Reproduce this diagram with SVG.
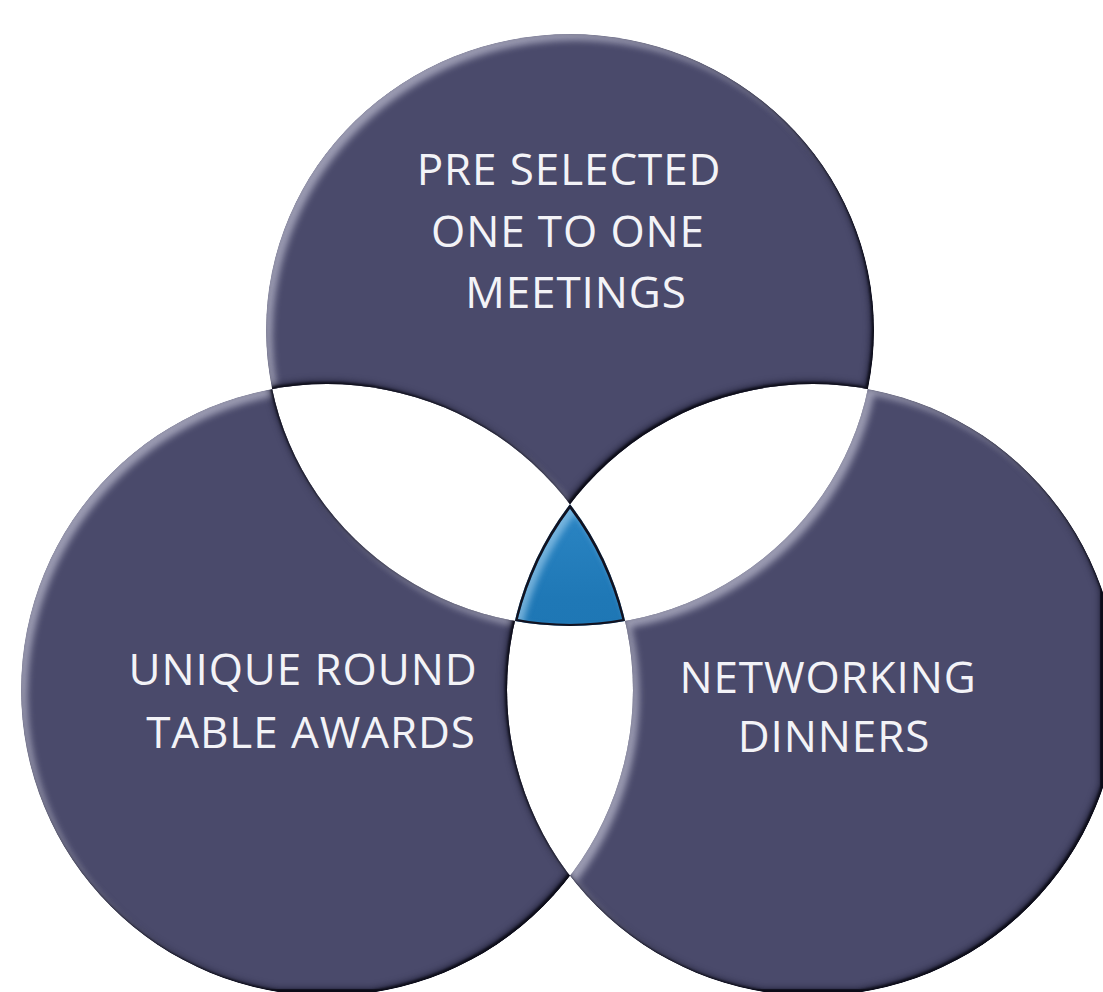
<svg xmlns="http://www.w3.org/2000/svg" xmlns:xlink="http://www.w3.org/1999/xlink" width="1103" height="992" viewBox="0 0 1103 992">
  <style>
    .dark { fill: #4a4a6b; }
    .lbl { font-family: "Open Sans", "Liberation Sans", sans-serif; font-size: 44px; fill: #f3f3f7; text-anchor: middle; letter-spacing: 0.9px; }
  </style>
  <defs>
    <ellipse id="cT" cx="570" cy="330" rx="304" ry="296"/>
    <circle id="cL" cx="327" cy="690" r="306"/>
    <circle id="cR" cx="813" cy="690" r="306"/>
    <clipPath id="clipT"><use href="#cT"/></clipPath>
    <clipPath id="clipL"><use href="#cL"/></clipPath>
    <mask id="mT" maskUnits="userSpaceOnUse" x="0" y="0" width="1103" height="992">
      <use href="#cT" fill="#fff"/><use href="#cL" fill="#000"/><use href="#cR" fill="#000"/>
    </mask>
    <mask id="mL" maskUnits="userSpaceOnUse" x="0" y="0" width="1103" height="992">
      <use href="#cL" fill="#fff"/><use href="#cT" fill="#000"/><use href="#cR" fill="#000"/>
    </mask>
    <mask id="mR" maskUnits="userSpaceOnUse" x="0" y="0" width="1103" height="992">
      <use href="#cR" fill="#fff"/><use href="#cT" fill="#000"/><use href="#cL" fill="#000"/>
    </mask>
    <linearGradient id="blueGrad" x1="0" y1="0" x2="0" y2="1">
      <stop offset="0" stop-color="#3c98d6"/>
      <stop offset="0.35" stop-color="#1f78b6"/>
      <stop offset="1" stop-color="#186aa6"/>
    </linearGradient>
    <filter id="bevel" filterUnits="userSpaceOnUse" x="0" y="0" width="1103" height="992" color-interpolation-filters="sRGB">
      <feGaussianBlur in="SourceAlpha" stdDeviation="3.5" result="blur"/>
      <feOffset in="blur" dx="6" dy="6" result="offDR"/>
      <feComposite in="SourceAlpha" in2="offDR" operator="out" result="hlMask"/>
      <feFlood flood-color="#c4c4d6" flood-opacity="0.7"/>
      <feComposite in2="hlMask" operator="in" result="hl"/>
      <feOffset in="blur" dx="-3" dy="-3" result="offUL"/>
      <feComposite in="SourceAlpha" in2="offUL" operator="out" result="shMask"/>
      <feFlood flood-color="#15152a" flood-opacity="0.8"/>
      <feComposite in2="shMask" operator="in" result="sh"/>
      <feGaussianBlur in="SourceAlpha" stdDeviation="0.8" result="blur2"/>
      <feOffset in="blur2" dx="-2.5" dy="-2.5" result="offUL2"/>
      <feComposite in="SourceAlpha" in2="offUL2" operator="out" result="shMask2"/>
      <feFlood flood-color="#0c0c16" flood-opacity="0.95"/>
      <feComposite in2="shMask2" operator="in" result="sh2"/>
      <feMerge><feMergeNode in="SourceGraphic"/><feMergeNode in="hl"/><feMergeNode in="sh"/><feMergeNode in="sh2"/></feMerge>
    </filter>
    <filter id="bevelBlue" filterUnits="userSpaceOnUse" x="0" y="0" width="1103" height="992" color-interpolation-filters="sRGB">
      <feMorphology in="SourceAlpha" operator="erode" radius="2" result="er"/>
      <feComposite in="SourceAlpha" in2="er" operator="out" result="edge"/>
      <feFlood flood-color="#121220"/>
      <feComposite in2="edge" operator="in" result="outline"/>
      <feGaussianBlur in="er" stdDeviation="3" result="blur"/>
      <feOffset in="blur" dx="5" dy="5" result="off"/>
      <feComposite in="er" in2="off" operator="out" result="hlMask"/>
      <feFlood flood-color="#a8d4f2" flood-opacity="0.6"/>
      <feComposite in2="hlMask" operator="in" result="hl"/>
      <feMerge><feMergeNode in="SourceGraphic"/><feMergeNode in="hl"/><feMergeNode in="outline"/></feMerge>
    </filter>
  </defs>

  <rect width="1103" height="992" fill="#ffffff"/>

  <g id="node-top">
    <g filter="url(#bevel)"><use href="#cT" class="dark" mask="url(#mT)"/></g>
    <text class="lbl" x="569" y="185">PRE SELECTED</text>
    <text class="lbl" x="568" y="247">ONE TO ONE</text>
    <text class="lbl" x="576" y="308">MEETINGS</text>
  </g>

  <g id="node-left">
    <g filter="url(#bevel)"><use href="#cL" class="dark" mask="url(#mL)"/></g>
    <text class="lbl" x="303" y="685">UNIQUE ROUND</text>
    <text class="lbl" x="311" y="748">TABLE AWARDS</text>
  </g>

  <g id="node-right">
    <g filter="url(#bevel)"><use href="#cR" class="dark" mask="url(#mR)"/></g>
    <text class="lbl" x="828" y="693">NETWORKING</text>
    <text class="lbl" x="834" y="752">DINNERS</text>
  </g>

  <g id="node-center">
    <g filter="url(#bevelBlue)">
      <g clip-path="url(#clipT)"><g clip-path="url(#clipL)"><use href="#cR" fill="url(#blueGrad)"/></g></g>
    </g>
  </g>
</svg>
